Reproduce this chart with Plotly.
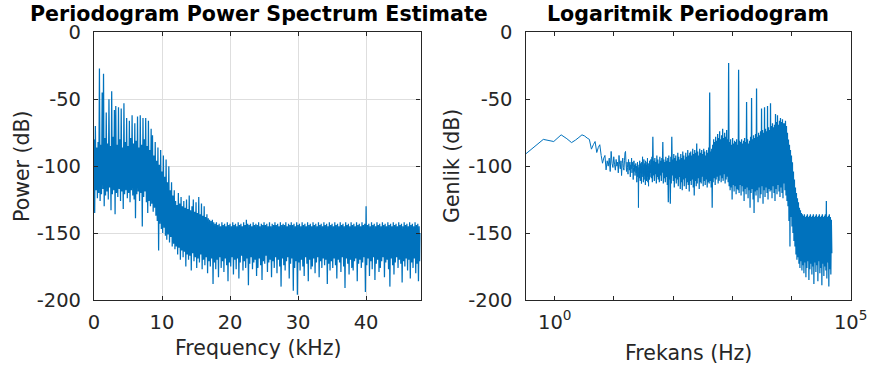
import numpy as np
import plotly.graph_objects as go

# ---------------------------------------------------------------------------
# Periodogram, linear frequency axis: 0-48 kHz in 0.1 kHz bins (dB)
# each row covers 1 kHz
# ---------------------------------------------------------------------------
lin_power_db = [
    -80, -135, -70, -118, -86, -124, -82, -120, -27, -126,
    -84, -121, -45, -117, -31, -130, -79, -122, -60, -119,
    -83, -125, -50, -116, -85, -133, -44, -121, -78, -118,
    -58, -136, -55, -120, -84, -123, -56, -117, -80, -126,
    -57, -119, -86, -132, -53, -121, -82, -118, -64, -124,
    -85, -120, -66, -127, -79, -118, -62, -122, -83, -125,
    -68, -139, -81, -121, -63, -119, -86, -126, -62, -120,
    -84, -145, -64, -123, -80, -119, -64, -127, -85, -135,
    -66, -126, -88, -130, -72, -128, -77, -134, -92, -131,
    -82, -137, -96, -141, -86, -163, -99, -143, -88, -147,
    -104, -150, -92, -146, -108, -152, -95, -155, -112, -151,
    -100, -157, -118, -153, -112, -160, -122, -158, -118, -162,
    -126, -160, -129, -166, -120, -161, -128, -170, -123, -163,
    -130, -168, -126, -164, -131, -175, -125, -166, -132, -170,
    -122, -167, -133, -178, -130, -165, -125, -171, -134, -168,
    -127, -176, -135, -169, -123, -172, -136, -166, -128, -177,
    -137, -170, -130, -174, -138, -168, -136, -180, -139, -171,
    -140, -175, -141, -169, -140, -188, -142, -172, -143, -177,
    -142, -170, -144, -183, -143, -168, -145, -176, -142, -171,
    -144, -179, -143, -169, -145, -174, -142, -186, -144, -172,
    -143, -175, -145, -168, -142, -181, -144, -170, -143, -177,
    -145, -169, -142, -184, -144, -172, -143, -167, -145, -178,
    -142, -171, -144, -176, -140, -169, -143, -189, -144, -173,
    -143, -168, -145, -177, -142, -172, -144, -170, -143, -182,
    -144, -176, -142, -169, -145, -174, -143, -185, -144, -171,
    -142, -173, -144, -167, -143, -179, -145, -172, -142, -170,
    -145, -183, -143, -171, -144, -176, -142, -168, -144, -180,
    -143, -170, -145, -175, -142, -190, -144, -169, -143, -174,
    -144, -178, -142, -171, -145, -168, -143, -184, -144, -173,
    -142, -169, -144, -193, -143, -176, -145, -171, -142, -196,
    -144, -172, -143, -178, -145, -170, -142, -175, -144, -182,
    -143, -168, -145, -173, -142, -186, -144, -170, -143, -177,
    -145, -175, -142, -169, -144, -180, -143, -172, -145, -168,
    -142, -183, -144, -171, -143, -176, -145, -169, -142, -174,
    -144, -170, -143, -188, -145, -173, -142, -178, -144, -171,
    -143, -176, -145, -169, -142, -174, -144, -184, -143, -170,
    -145, -172, -142, -179, -144, -168, -143, -175, -145, -191,
    -142, -169, -144, -173, -143, -181, -145, -170, -142, -176,
    -144, -178, -143, -171, -145, -169, -142, -186, -144, -173,
    -143, -170, -145, -176, -142, -172, -144, -168, -143, -194,
    -130, -174, -144, -169, -143, -182, -145, -171, -142, -177,
    -144, -168, -143, -185, -145, -173, -142, -170, -144, -179,
    -143, -176, -145, -171, -142, -168, -144, -183, -143, -172,
    -145, -170, -142, -177, -144, -190, -143, -169, -145, -174,
    -142, -181, -144, -172, -143, -168, -145, -176, -142, -170,
    -144, -173, -143, -187, -145, -171, -142, -175, -144, -169,
    -143, -178, -145, -170, -142, -184, -144, -172, -143, -176,
    -145, -169, -142, -180, -144, -173, -143, -186, -145, -171,
    -150,
]
lin_bin_khz = 0.1
lin_freq_khz = np.round(np.arange(len(lin_power_db)) * lin_bin_khz, 1)

# ---------------------------------------------------------------------------
# Periodogram on a logarithmic frequency axis
# first fine-resolution bins (k = 1 .. 129, 0.32 Hz apart)
# ---------------------------------------------------------------------------
fine_bin_hz = 0.32
low_power_db = [
    -91, -80, -81.6, -76.6, -79.5, -82.4, -80.5, -78.5, -76.6, -77.5,
    -79, -80, -87.3, -84, -81.6, -89.8, -86, -84, -92, -97.8,
    -94, -92, -102.8,
    -96, -100, -94, -104, -89, -98, -101, -93, -99, -103,
    -95, -100, -97, -105, -92, -99, -102, -96, -107, -98,
    -94, -101, -103, -96, -90, -89, -99, -104, -97, -101,
    -106, -95, -100, -103, -97, -108, -99, -102, -94, -105,
    -100, -97, -110, -101, -96, -104, -99, -107, -102, -98,
    -105, -100, -112, -103, -97, -108, -101, -131, -104, -99,
    -109, -96, -103, -111, -98, -105, -100, -113, -97, -106,
    -102, -93, -108, -99, -112, -101, -95, -110, -103, -98,
    -107, -100, -114, -96, -104, -109, -99, -111, -102, -97,
    -108, -94, -105, -112, -100, -103, -115, -98, -106, -101,
    -110, -96, -104, -108, -99, -105,
]
low_freq_hz = fine_bin_hz * np.arange(1, len(low_power_db) + 1)

# upper part, log-spaced bins from 42 Hz to 48 kHz
high_f_start_hz = 42.0
high_f_stop_hz = 48000.0
high_power_db = [
    -95, -109, -93, -112, -78, -107, -96, -111, -94, -106, -97, -113, -92, -108, -95, -110, -98, -112, -93, -107,
    -96, -111, -94, -105, -82, -113, -95, -109, -97, -112, -93, -108, -96, -114, -94, -127, -92, -110, -97, -128,
    -93, -113, -78, -107, -95, -111, -91, -116, -94, -109, -92, -113, -96, -110, -90, -115, -93, -108, -95, -117,
    -91, -112, -94, -118, -89, -110, -92, -115, -95, -109, -90, -117, -93, -112, -88, -114, -92, -119, -90, -111,
    -89, -114, -92, -110, -87, -116, -91, -122, -88, -111, -90, -115, -83, -113, -89, -109, -92, -117, -87, -112,
    -90, -113, -88, -108, -91, -115, -87, -111, -89, -114, -92, -110, -88, -116, -90, -112, -86, -113, -45, -111,
    -89, -116, -87, -131, -84, -112, -80, -109, -82, -114, -78, -110, -81, -108, -76, -113, -79, -111, -74, -107,
    -80, -112, -77, -109, -72, -111, -79, -106, -75, -113, -78, -110, -73, -108, -80, -112, -23, -115, -82, -118,
    -80, -116, -84, -125, -79, -114, -83, -119, -81, -115, -82, -121, -80, -117, -84, -118, -28, -120, -81, -114,
    -82, -122, -80, -115, -83, -119, -81, -126, -79, -117, -82, -121, -52, -116, -80, -124, -83, -118, -81, -131,
    -78, -120, -49, -117, -80, -125, -77, -135, -79, -119, -76, -122, -42, -118, -78, -127, -75, -116, -77, -124,
    -74, -121, -57, -115, -73, -128, -75, -118, -56, -123, -72, -116, -74, -120, -55, -125, -71, -117, -73, -119,
    -53, -118, -70, -124, -68, -115, -71, -120, -69, -126, -61, -117, -67, -121, -62, -114, -69, -119, -66, -123,
    -64, -116, -67, -120, -65, -124, -68, -113, -68, -118, -66, -122, -70, -126, -75, -130, -80, -141, -84, -160,
    -88, -138, -92, -145, -97, -150, -104, -156, -110, -160, -116, -166, -120, -170, -124, -168, -127, -173, -131, -176,
    -133, -171, -135, -178, -136, -174, -137, -180, -136, -172, -138, -183, -137, -176, -136, -171, -138, -185, -137, -177,
    -136, -173, -138, -181, -137, -175, -136, -188, -138, -172, -137, -179, -136, -174, -138, -186, -137, -171, -136, -180,
    -138, -176, -137, -189, -136, -173, -138, -182, -137, -175, -136, -178, -126, -184, -138, -172, -137, -190, -136, -177,
    -138, -181, -140, -165,
]
high_freq_hz = np.geomspace(high_f_start_hz, high_f_stop_hz, len(high_power_db))

# axis ticks (plain hyphen minus signs on the dB labels)
lin_xticks = [0, 10, 20, 30, 40]
db_ticks = [0, -50, -100, -150, -200]
db_ticktext = ["0", "-50", "-100", "-150", "-200"]
log_xticks = [1, 10, 100, 1000, 10000, 100000]
log_xticktext = ["10<sup>0</sup>", "", "", "", "", "10<sup>5</sup>"]

# ---------------------------------------------------------------------------
W, H = 874, 372
LINE = "#0072BD"
AX = "#262626"
FONT = "DejaVu Sans"


def fx(px):
    return px / W


def fy(py):
    return 1 - py / H


fig = go.Figure()
# linear-frequency periodogram
fig.add_trace(go.Scatter(x=lin_freq_khz, y=lin_power_db, mode="lines",
                         line=dict(color=LINE, width=1.25, simplify=False),
                         xaxis="x", yaxis="y", showlegend=False))
# log-frequency periodogram: sparse low bins (joined to the first dense bin)
fig.add_trace(go.Scatter(x=np.append(low_freq_hz, high_freq_hz[0]),
                         y=low_power_db + high_power_db[:1], mode="lines",
                         line=dict(color=LINE, width=1.0, simplify=False),
                         xaxis="x2", yaxis="y2", showlegend=False))
# log-frequency periodogram: dense upper bins
fig.add_trace(go.Scatter(x=high_freq_hz, y=high_power_db, mode="lines",
                         line=dict(color=LINE, width=1.25, simplify=False),
                         xaxis="x2", yaxis="y2", showlegend=False))

common = dict(showline=True, linecolor=AX, linewidth=1.2, mirror="ticks",
              ticks="inside", ticklen=4, tickwidth=1, tickcolor=AX,
              zeroline=False, automargin=False,
              tickfont=dict(family=FONT, size=19.5, color=AX))

fig.update_layout(
    width=W, height=H,
    margin=dict(l=0, r=0, t=0, b=0, pad=0, autoexpand=False),
    paper_bgcolor="white", plot_bgcolor="white",
    xaxis=dict(domain=[fx(94), fx(420.5)], range=[0, 48],
               tickvals=lin_xticks, showgrid=True, gridcolor="#dedede",
               gridwidth=1, anchor="y", ticklabelstandoff=4, **common),
    yaxis=dict(domain=[fy(300), fy(32.3)], range=[-200, 0],
               tickvals=db_ticks, ticktext=db_ticktext,
               showgrid=True, gridcolor="#dedede",
               gridwidth=1, anchor="x", ticklabelstandoff=8, **common),
    xaxis2=dict(domain=[fx(525.5), fx(850.7)], type="log",
                range=[np.log10(fine_bin_hz), 5],
                tickvals=log_xticks, ticktext=log_xticktext,
                showgrid=False, anchor="y2", ticklabelstandoff=4, **common),
    yaxis2=dict(domain=[fy(300), fy(32.3)], range=[-200, 0],
                tickvals=db_ticks, ticktext=db_ticktext,
                showgrid=False, anchor="x2",
                ticklabelstandoff=8, **common),
)

ann = []
title_font = dict(family=FONT, size=20.6, color="black")
label_font = dict(family=FONT, size=20.5, color=AX)
ann.append(dict(text="<b>Periodogram Power Spectrum Estimate</b>",
                x=fx(258.5), y=fy(14.5), xref="paper", yref="paper",
                xanchor="center", yanchor="middle", showarrow=False,
                font=title_font))
ann.append(dict(text="<b>Logaritmik Periodogram</b>",
                x=fx(688), y=fy(14.5), xref="paper", yref="paper",
                xanchor="center", yanchor="middle", showarrow=False,
                font=title_font))
ann.append(dict(text="Frequency (kHz)", x=fx(257.5), y=fy(348),
                xref="paper", yref="paper", xanchor="center",
                yanchor="middle", showarrow=False, font=label_font))
ann.append(dict(text="Frekans (Hz)", x=fx(688), y=fy(353),
                xref="paper", yref="paper", xanchor="center",
                yanchor="middle", showarrow=False, font=label_font))
ann.append(dict(text="Power (dB)", x=fx(22), y=fy(166), textangle=-90,
                xref="paper", yref="paper", xanchor="center",
                yanchor="middle", showarrow=False, font=label_font))
ann.append(dict(text="Genlik (dB)", x=fx(452), y=fy(166), textangle=-90,
                xref="paper", yref="paper", xanchor="center",
                yanchor="middle", showarrow=False, font=label_font))
fig.update_layout(annotations=ann)

fig.write_html("out.html")
